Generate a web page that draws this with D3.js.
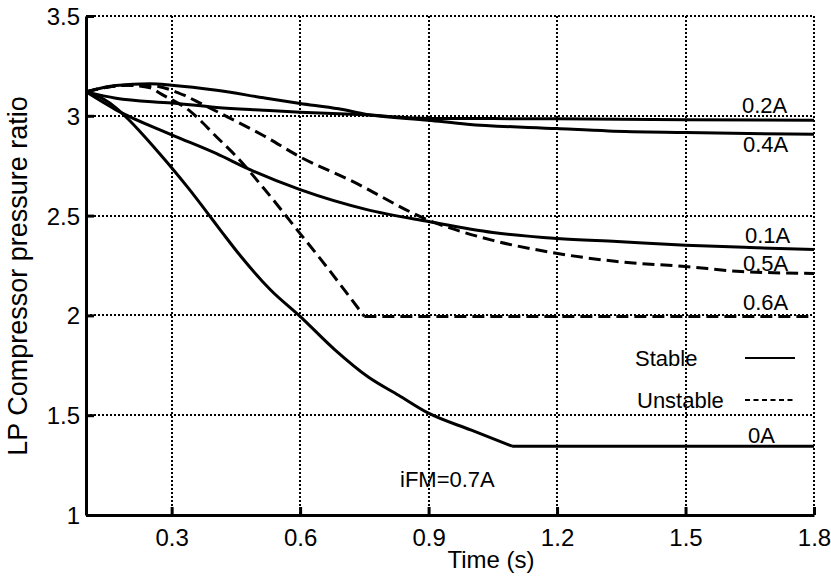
<!DOCTYPE html>
<html>
<head>
<meta charset="utf-8">
<script src="https://cdn.jsdelivr.net/npm/d3@7"></script>
<style>
  body { margin: 0; background: #fff; }
  svg text { font-family: "Liberation Sans", Arial, sans-serif; fill: #000; }
</style>
</head>
<body>
<div class="container"></div>
<script>
const WIDTH = 831;
const HEIGHT = 576;

// axis ticks
var xTicks = [0.3, 0.6, 0.9, 1.2, 1.5, 1.8];
var yTicks = [1, 1.5, 2, 2.5, 3, 3.5];

// curves (time in s, LP compressor pressure ratio)
var time0A = [0.1, 0.14, 0.17, 0.2, 0.235, 0.27, 0.3, 0.34, 0.383, 0.42, 0.46, 0.53, 0.6, 0.68, 0.76, 0.83, 0.9, 1.0, 1.095, 1.8];
var ratio0A = [3.12, 3.085, 3.04, 2.98, 2.9, 2.815, 2.74, 2.635, 2.515, 2.41, 2.3, 2.13, 1.995, 1.83, 1.69, 1.6, 1.51, 1.425, 1.345, 1.345];

var time01A = [0.1, 0.17, 0.3, 0.405, 0.483, 0.6, 0.756, 0.9, 1.05, 1.2, 1.34, 1.5, 1.65, 1.8];
var ratio01A = [3.12, 3.03, 2.905, 2.81, 2.73, 2.63, 2.53, 2.47, 2.415, 2.385, 2.37, 2.352, 2.34, 2.33];

var time02A = [0.1, 0.17, 0.3, 0.405, 0.515, 0.6, 0.75, 0.9, 1.2, 1.5, 1.8];
var ratio02A = [3.12, 3.088, 3.064, 3.042, 3.028, 3.018, 3.005, 2.987, 2.985, 2.98, 2.978];

var time04A = [0.1, 0.17, 0.25, 0.3, 0.405, 0.515, 0.6, 0.69, 0.756, 0.9, 0.99, 1.2, 1.32, 1.5, 1.8];
var ratio04A = [3.12, 3.152, 3.16, 3.153, 3.128, 3.09, 3.062, 3.035, 3.007, 2.978, 2.958, 2.936, 2.924, 2.916, 2.907];

var time05A = [0.1, 0.195, 0.25, 0.329, 0.368, 0.43, 0.515, 0.6, 0.717, 0.9, 1.05, 1.18, 1.34, 1.5, 1.63, 1.8];
var ratio05A = [3.12, 3.153, 3.152, 3.103, 3.062, 2.995, 2.9, 2.794, 2.677, 2.477, 2.376, 2.318, 2.27, 2.245, 2.22, 2.21];

var time06A = [0.1, 0.195, 0.25, 0.275, 0.345, 0.405, 0.452, 0.515, 0.6, 0.646, 0.75, 1.8];
var ratio06A = [3.12, 3.153, 3.14, 3.11, 3.02, 2.894, 2.794, 2.637, 2.41, 2.287, 1.995, 1.995];

var curveNames = ['0A', '0.1A', '0.2A', '0.4A', '0.5A', '0.6A'];
var curveTimes = [time0A, time01A, time02A, time04A, time05A, time06A];
var curveRatios = [ratio0A, ratio01A, ratio02A, ratio04A, ratio05A, ratio06A];
var curveStable = [true, true, true, true, false, false];
// time where a curve settles onto its plateau (sharp corner)
var curveKink = [1.095, null, null, null, null, 0.75];

var margin = { top: 16, right: 17, bottom: 61, left: 86 };
var innerW = WIDTH - margin.left - margin.right;
var innerH = HEIGHT - margin.top - margin.bottom;

var x = d3.scaleLinear().domain([0.1, 1.8]).range([0, innerW]);
var y = d3.scaleLinear().domain([1, 3.5]).range([innerH, 0]);

var svg = d3.select('.container').append('svg')
  .attr('width', WIDTH)
  .attr('height', HEIGHT);

var g = svg.append('g')
  .attr('transform', 'translate(' + margin.left + ',' + margin.top + ')');

// dotted grid
g.append('g').selectAll('line')
  .data(xTicks)
  .enter().append('line')
  .attr('x1', function (d) { return Math.round(x(d)); })
  .attr('x2', function (d) { return Math.round(x(d)); })
  .attr('y1', 0)
  .attr('y2', innerH)
  .attr('stroke', '#000')
  .attr('stroke-width', 2)
  .attr('stroke-dasharray', '2,2')
  .attr('shape-rendering', 'crispEdges');

g.append('g').selectAll('line')
  .data(yTicks.slice(1))
  .enter().append('line')
  .attr('x1', 0)
  .attr('x2', innerW)
  .attr('y1', function (d) { return Math.round(y(d)); })
  .attr('y2', function (d) { return Math.round(y(d)); })
  .attr('stroke', '#000')
  .attr('stroke-width', 2)
  .attr('stroke-dasharray', '2,2')
  .attr('shape-rendering', 'crispEdges');

// curves
var line = d3.line()
  .x(function (d) { return x(d[0]); })
  .y(function (d) { return y(d[1]); })
  .curve(d3.curveMonotoneX);

curveNames.forEach(function (name, i) {
  var pts = d3.zip(curveTimes[i], curveRatios[i]);
  var parts = [pts];
  if (curveKink[i] !== null) {
    parts = [
      pts.filter(function (p) { return p[0] <= curveKink[i]; }),
      pts.filter(function (p) { return p[0] >= curveKink[i]; })
    ];
  }
  parts.forEach(function (part) {
    g.append('path')
      .datum(part)
      .attr('d', line)
      .attr('fill', 'none')
      .attr('stroke', '#000')
      .attr('stroke-width', 3)
      .attr('stroke-linejoin', 'round')
      .attr('stroke-dasharray', curveStable[i] ? null : '12,6');
  });
});

// axes (ticks pointing inward)
var xAxis = d3.axisBottom(x).tickValues(xTicks).tickSizeInner(-8).tickSizeOuter(0).tickPadding(14)
  .tickFormat(d3.format('~g'));
var yAxis = d3.axisLeft(y).tickValues(yTicks).tickSizeInner(-8).tickSizeOuter(0).tickPadding(6)
  .tickFormat(d3.format('~g'));

var gx = g.append('g')
  .attr('transform', 'translate(0,' + innerH + ')')
  .call(xAxis);
var gy = g.append('g').call(yAxis);

[gx, gy].forEach(function (a) {
  a.select('.domain').attr('stroke', '#000').attr('stroke-width', 3);
  a.selectAll('.tick line').attr('stroke', '#000').attr('stroke-width', 3);
  a.selectAll('.tick text')
    .style('font-family', '"Liberation Sans", Arial, sans-serif')
    .style('font-size', '24px')
    .attr('fill', '#000');
});
gy.selectAll('.tick text').attr('dy', '0.35em');

// axis titles
svg.append('text')
  .attr('x', 491)
  .attr('y', 568)
  .attr('text-anchor', 'middle')
  .style('font-size', '24px')
  .text('Time (s)');

svg.append('text')
  .attr('transform', 'translate(27,276) rotate(-90)')
  .attr('text-anchor', 'middle')
  .style('font-size', '27px')
  .text('LP Compressor pressure ratio');

// curve annotations
var labelText = ['0.2A', '0.4A', '0.1A', '0.5A', '0.6A', '0A', 'iFM=0.7A'];
var labelX = [742, 743, 745, 743, 743, 748, 400];
var labelY = [113, 152, 243, 271, 310, 443, 487];

svg.append('g').selectAll('text')
  .data(labelText)
  .enter().append('text')
  .attr('x', function (d, i) { return labelX[i]; })
  .attr('y', function (d, i) { return labelY[i]; })
  .style('font-size', '22px')
  .text(function (d) { return d; });

// legend
var legendText = ['Stable', 'Unstable'];
var legendDash = [null, '5,3.5'];
var legendY = [358, 400];

var lg = svg.append('g');
legendText.forEach(function (t, i) {
  lg.append('text')
    .attr('x', i === 0 ? 635 : 637)
    .attr('y', legendY[i] + 8)
    .style('font-size', '22px')
    .text(t);
  lg.append('line')
    .attr('x1', 745)
    .attr('x2', 795)
    .attr('y1', legendY[i])
    .attr('y2', legendY[i])
    .attr('stroke', '#000')
    .attr('stroke-width', 2)
    .attr('stroke-dasharray', legendDash[i]);
});
</script>
</body>
</html>
